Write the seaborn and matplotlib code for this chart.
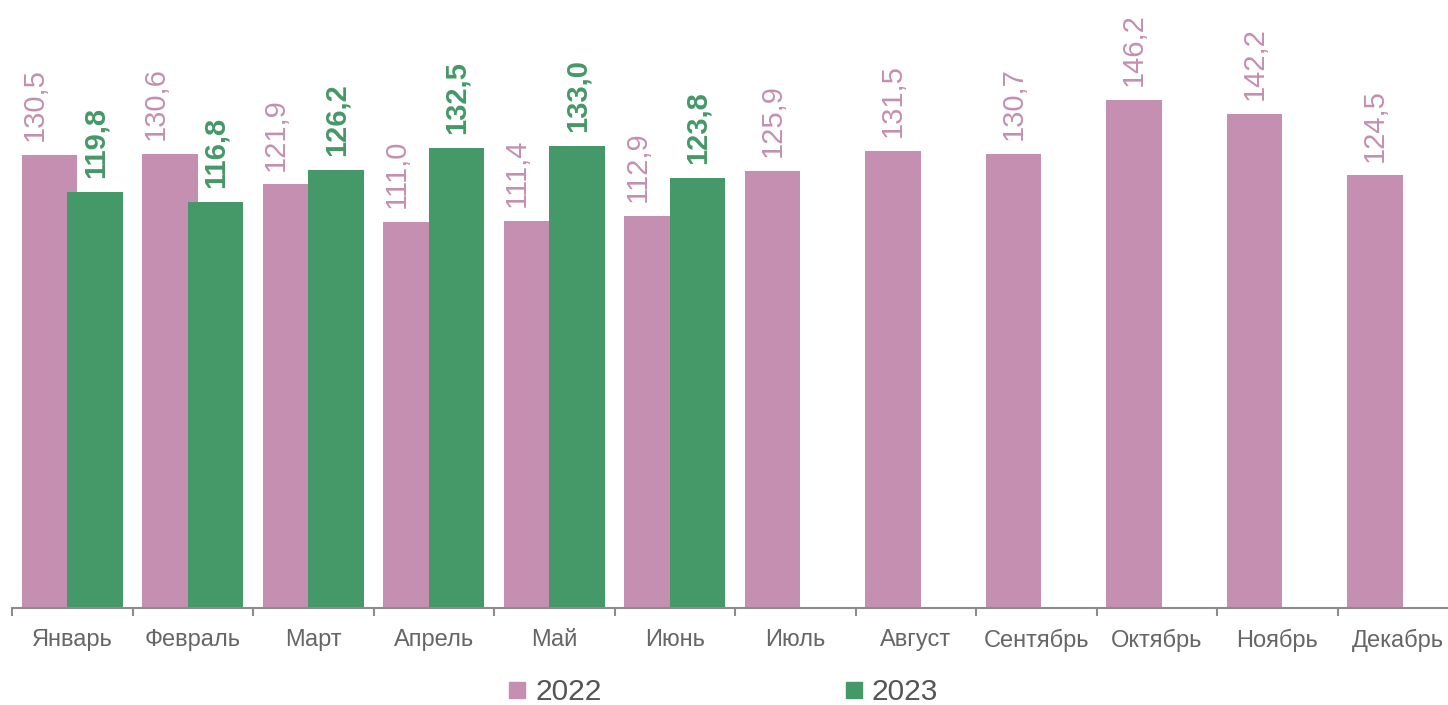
import numpy as np
import pandas as pd
import matplotlib
matplotlib.use("Agg")
import matplotlib.pyplot as plt
from matplotlib.lines import Line2D
import seaborn as sns

sns.set_theme(style="white")
plt.rcParams["font.family"] = ["Liberation Sans", "DejaVu Sans"]

# ── Data ──────────────────────────────────────────────────────────────────────
months = ["Январь", "Февраль", "Март", "Апрель", "Май", "Июнь",
          "Июль", "Август", "Сентябрь", "Октябрь", "Ноябрь", "Декабрь"]
vals_2022 = [130.5, 130.6, 121.9, 111.0, 111.4, 112.9,
             125.9, 131.5, 130.7, 146.2, 142.2, 124.5]
vals_2023 = [119.8, 116.8, 126.2, 132.5, 133.0, 123.8,
             np.nan, np.nan, np.nan, np.nan, np.nan, np.nan]
years = ["2022", "2023"]

COLORS = {"2022": "#c48fb0", "2023": "#459868"}

df = pd.DataFrame({
    "month": months * 2,
    "year": [years[0]] * 12 + [years[1]] * 12,
    "value": vals_2022 + vals_2023,
}).dropna()

# ── Plot ──────────────────────────────────────────────────────────────────────
fig = plt.figure(figsize=(14.48, 7.05), dpi=100)
ax = fig.add_axes([12 / 1448, 97 / 705, 1446 / 1448, 608 / 705])

sns.barplot(data=df, x="month", y="value", hue="year", order=months,
            hue_order=years, palette=COLORS, width=0.76, dodge=True,
            saturation=1, legend=False, ax=ax)

# widen bars so the pair overlaps slightly
for p in ax.patches:
    c = p.get_x() + p.get_width() / 2
    p.set_width(0.46)
    p.set_x(c - 0.23)
    p.set_linewidth(0)

# value labels
has_2023 = ~np.isnan(np.array(vals_2023))
for cont, year in zip(ax.containers, years):
    for p in cont.patches:
        h = p.get_height()
        if np.isnan(h):
            continue
        c = p.get_x() + p.get_width() / 2
        idx = int(round(c))
        x = c
        if year == "2022" and has_2023[idx]:
            x = c - 0.12
        ax.annotate(f"{h:.1f}".replace(".", ","), xy=(x, h),
                    xytext=(0, 10), textcoords="offset points",
                    rotation=90, ha="center", va="bottom",
                    fontsize=21, color=COLORS[year],
                    fontweight="bold" if year == "2023" else "normal")

ax.set_xlim(-0.5, 11.5)
ax.set_ylim(0, 175)
ax.set_xlabel("")
ax.set_ylabel("")
ax.set_yticks([])
for s in ["left", "top", "right"]:
    ax.spines[s].set_visible(False)
ax.spines["bottom"].set_color("#8c8c8c")
ax.spines["bottom"].set_linewidth(1.5)

# boundary ticks (major) and centred month labels (minor)
ax.set_xticks(np.arange(-0.5, 12, 1.0))
ax.set_xticklabels([])
ax.set_xticks(np.arange(12), minor=True)
ax.set_xticklabels(months, minor=True)
ax.tick_params(axis="x", which="major", bottom=True, length=6, width=1.5,
               color="#8c8c8c", direction="out")
ax.tick_params(axis="x", which="minor", bottom=True, length=0, pad=15,
               labelsize=17, labelcolor="#666666")

handles = [Line2D([], [], marker="s", linestyle="", markersize=11,
                  color=COLORS[y], label=y) for y in years]
fig.legend(handles=handles, loc="center", bbox_to_anchor=(0.5, 13 / 705),
           ncol=2, frameon=False, fontsize=21.5, handlelength=0.5,
           handletextpad=0.35, columnspacing=8.2, labelcolor="#555555")

fig.savefig("out.png", dpi=100)
plt.close()
